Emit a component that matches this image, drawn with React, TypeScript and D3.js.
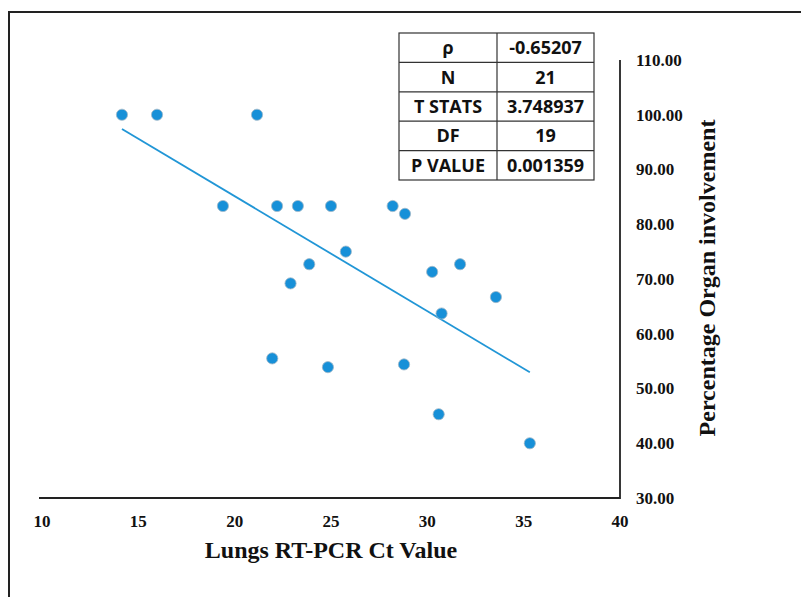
import React from 'react';
import * as d3 from 'd3';

// Ct value vs percentage organ involvement
const ctValues = [
    14.15, 15.97, 21.16, 19.39, 22.2, 23.28, 25.0, 28.2, 28.84, 25.77, 23.87,
    22.9, 30.25, 31.7, 33.56, 30.74, 21.95, 24.84, 28.79, 30.59, 35.32,
];
const involvement = [
    100, 100, 100, 83.33, 83.33, 83.33, 83.33, 83.33, 81.9, 75.0, 72.7,
    69.2, 71.3, 72.7, 66.7, 63.7, 55.5, 53.9, 54.4, 45.3, 40.0,
];
const xTicks = [10, 15, 20, 25, 30, 35, 40];
const yTicks = [30, 40, 50, 60, 70, 80, 90, 100, 110];
const statLabels = ['ρ', 'N', 'T STATS', 'DF', 'P VALUE'];
const statValues = ['-0.65207', '21', '3.748937', '19', '0.001359'];

const W = 801;
const H = 597;
const blue = '#1790d8';

const App: React.FC = () => {
    const x = d3.scaleLinear().domain([10, 40]).range([42, 620]);
    const y = d3.scaleLinear().domain([30, 110]).range([498, 60]);

    // least squares trendline
    const mx = d3.mean(ctValues) as number;
    const my = d3.mean(involvement) as number;
    const sxy = d3.sum(ctValues, (v, i) => (v - mx) * (involvement[i] - my));
    const sxx = d3.sum(ctValues, (v) => (v - mx) ** 2);
    const slope = sxy / sxx;
    const icpt = my - slope * mx;
    const [x0, x1] = d3.extent(ctValues) as [number, number];
    const trend = d3.line<number>()
        .x((d) => x(d))
        .y((d) => y(icpt + slope * d))([x0, x1]);

    const points = ctValues.map((v, i) => ({ cx: v, cy: involvement[i] }));

    // table layout
    const tLeft = 399, tMid = 497, tRight = 594, tTop = 33, rowH = 29.4;

    return (
        <svg width={W} height={H} style={{ position: 'absolute', left: 0, top: 0, background: '#fff' }}>
            {/* outer frame */}
            <path d={`M9,${H} V12 H${W}`} fill="none" stroke="#222" strokeWidth={2} />

            {/* axes */}
            <path d={`M39,${y(30)} H${x(40)} V${y(110)}`} fill="none" stroke="#222" strokeWidth={1.8} />

            <g fontFamily="'Liberation Serif', 'Times New Roman', serif" fontWeight="bold" fontSize={17} fill="#111">
                {xTicks.map((t) => (
                    <text key={t} x={x(t)} y={527} textAnchor="middle">{t}</text>
                ))}
                {yTicks.map((t) => (
                    <text key={t} x={636} y={y(t)} dy="0.35em">{t.toFixed(2)}</text>
                ))}
            </g>

            <text x={331} y={558} textAnchor="middle" fontFamily="'Liberation Serif', serif" fontWeight="bold" fontSize={24} fill="#111">
                Lungs RT-PCR Ct Value
            </text>
            <text transform={`translate(715,278) rotate(-90)`} textAnchor="middle" fontFamily="'Liberation Serif', serif" fontWeight="bold" fontSize={24} fill="#111">
                Percentage Organ involvement
            </text>

            {/* trendline */}
            <path d={trend || ''} fill="none" stroke="#2196d6" strokeWidth={1.8} />

            {/* points */}
            {points.map((p, i) => (
                <circle key={i} cx={x(p.cx)} cy={y(p.cy)} r={5.6} fill={blue} stroke="#9fb8c8" strokeWidth={0.8} />
            ))}

            {/* stats table */}
            <g>
                <rect x={tLeft} y={tTop} width={tRight - tLeft} height={rowH * 5} fill="#fff" stroke="#333" strokeWidth={1.2} />
                <line x1={tMid} x2={tMid} y1={tTop} y2={tTop + rowH * 5} stroke="#333" strokeWidth={1.2} />
                {statLabels.slice(1).map((_, i) => (
                    <line key={i} x1={tLeft} x2={tRight} y1={tTop + rowH * (i + 1)} y2={tTop + rowH * (i + 1)} stroke="#333" strokeWidth={1.2} />
                ))}
                <g fontFamily="'Open Sans', sans-serif" fontWeight="bold" fontSize={18} fill="#111" textAnchor="middle">
                    {statLabels.map((s, i) => (
                        <text key={s} x={(tLeft + tMid) / 2} y={tTop + rowH * (i + 0.5)} dy="0.36em">{s}</text>
                    ))}
                    {statValues.map((s, i) => (
                        <text key={i} x={(tMid + tRight) / 2} y={tTop + rowH * (i + 0.5)} dy="0.36em">{s}</text>
                    ))}
                </g>
            </g>
        </svg>
    );
};

export default App;
